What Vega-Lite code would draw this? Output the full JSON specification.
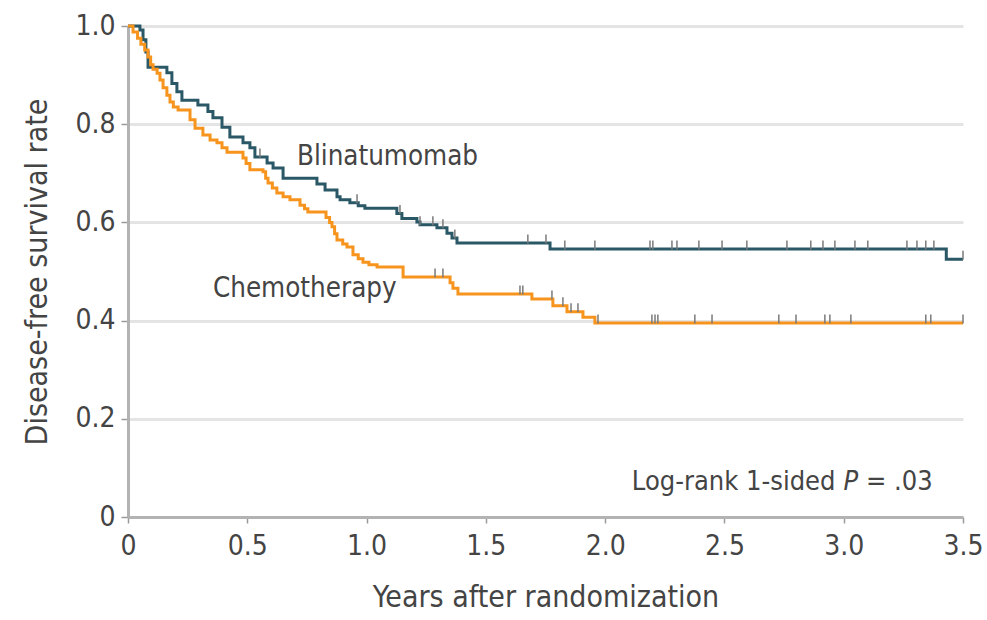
{
  "$schema": "https://vega.github.io/schema/vega-lite/v6.json",
  "autosize": "none",
  "width": 835,
  "height": 491,
  "padding": {"left": 128, "top": 26, "right": 24, "bottom": 103},
  "background": "white",
  "config": {"view": {"stroke": null}},
  "datasets": {
    "curves": [
      {"g": "Blinatumomab", "t": 0, "s": 1.0},
      {"g": "Blinatumomab", "t": 0.05, "s": 0.992},
      {"g": "Blinatumomab", "t": 0.063, "s": 0.972},
      {"g": "Blinatumomab", "t": 0.075, "s": 0.947},
      {"g": "Blinatumomab", "t": 0.084, "s": 0.916},
      {"g": "Blinatumomab", "t": 0.163, "s": 0.905},
      {"g": "Blinatumomab", "t": 0.184, "s": 0.883},
      {"g": "Blinatumomab", "t": 0.205, "s": 0.866},
      {"g": "Blinatumomab", "t": 0.226, "s": 0.849},
      {"g": "Blinatumomab", "t": 0.293, "s": 0.839},
      {"g": "Blinatumomab", "t": 0.335, "s": 0.826},
      {"g": "Blinatumomab", "t": 0.356, "s": 0.813},
      {"g": "Blinatumomab", "t": 0.394, "s": 0.794},
      {"g": "Blinatumomab", "t": 0.427, "s": 0.774},
      {"g": "Blinatumomab", "t": 0.482, "s": 0.762},
      {"g": "Blinatumomab", "t": 0.511, "s": 0.752},
      {"g": "Blinatumomab", "t": 0.532, "s": 0.733},
      {"g": "Blinatumomab", "t": 0.583, "s": 0.721},
      {"g": "Blinatumomab", "t": 0.608, "s": 0.711},
      {"g": "Blinatumomab", "t": 0.65, "s": 0.69},
      {"g": "Blinatumomab", "t": 0.792, "s": 0.678},
      {"g": "Blinatumomab", "t": 0.826, "s": 0.666},
      {"g": "Blinatumomab", "t": 0.876, "s": 0.652},
      {"g": "Blinatumomab", "t": 0.889, "s": 0.646},
      {"g": "Blinatumomab", "t": 0.93, "s": 0.64},
      {"g": "Blinatumomab", "t": 0.965, "s": 0.634},
      {"g": "Blinatumomab", "t": 0.993, "s": 0.629},
      {"g": "Blinatumomab", "t": 1.127, "s": 0.618},
      {"g": "Blinatumomab", "t": 1.148, "s": 0.608},
      {"g": "Blinatumomab", "t": 1.211, "s": 0.601},
      {"g": "Blinatumomab", "t": 1.224, "s": 0.595},
      {"g": "Blinatumomab", "t": 1.295, "s": 0.589},
      {"g": "Blinatumomab", "t": 1.337, "s": 0.578},
      {"g": "Blinatumomab", "t": 1.358, "s": 0.568},
      {"g": "Blinatumomab", "t": 1.379, "s": 0.558},
      {"g": "Blinatumomab", "t": 1.769, "s": 0.546},
      {"g": "Blinatumomab", "t": 3.43, "s": 0.525},
      {"g": "Blinatumomab", "t": 3.5, "s": 0.525},
      {"g": "Chemotherapy", "t": 0, "s": 1.0},
      {"g": "Chemotherapy", "t": 0.021, "s": 0.988},
      {"g": "Chemotherapy", "t": 0.04, "s": 0.975},
      {"g": "Chemotherapy", "t": 0.054, "s": 0.963},
      {"g": "Chemotherapy", "t": 0.07, "s": 0.951},
      {"g": "Chemotherapy", "t": 0.084, "s": 0.937},
      {"g": "Chemotherapy", "t": 0.095, "s": 0.921},
      {"g": "Chemotherapy", "t": 0.105, "s": 0.912},
      {"g": "Chemotherapy", "t": 0.122, "s": 0.904},
      {"g": "Chemotherapy", "t": 0.134, "s": 0.89},
      {"g": "Chemotherapy", "t": 0.147, "s": 0.874},
      {"g": "Chemotherapy", "t": 0.163, "s": 0.859},
      {"g": "Chemotherapy", "t": 0.176, "s": 0.845},
      {"g": "Chemotherapy", "t": 0.19, "s": 0.835},
      {"g": "Chemotherapy", "t": 0.21, "s": 0.829},
      {"g": "Chemotherapy", "t": 0.26, "s": 0.809},
      {"g": "Chemotherapy", "t": 0.281, "s": 0.792},
      {"g": "Chemotherapy", "t": 0.314, "s": 0.778},
      {"g": "Chemotherapy", "t": 0.344, "s": 0.768},
      {"g": "Chemotherapy", "t": 0.373, "s": 0.762},
      {"g": "Chemotherapy", "t": 0.394, "s": 0.752},
      {"g": "Chemotherapy", "t": 0.415, "s": 0.743},
      {"g": "Chemotherapy", "t": 0.482, "s": 0.731},
      {"g": "Chemotherapy", "t": 0.495, "s": 0.72},
      {"g": "Chemotherapy", "t": 0.511, "s": 0.707},
      {"g": "Chemotherapy", "t": 0.566, "s": 0.703},
      {"g": "Chemotherapy", "t": 0.577, "s": 0.69},
      {"g": "Chemotherapy", "t": 0.587, "s": 0.68},
      {"g": "Chemotherapy", "t": 0.605, "s": 0.67},
      {"g": "Chemotherapy", "t": 0.624, "s": 0.66},
      {"g": "Chemotherapy", "t": 0.65, "s": 0.652},
      {"g": "Chemotherapy", "t": 0.679, "s": 0.646},
      {"g": "Chemotherapy", "t": 0.721, "s": 0.635},
      {"g": "Chemotherapy", "t": 0.74, "s": 0.628},
      {"g": "Chemotherapy", "t": 0.754, "s": 0.621},
      {"g": "Chemotherapy", "t": 0.83, "s": 0.61},
      {"g": "Chemotherapy", "t": 0.845, "s": 0.6},
      {"g": "Chemotherapy", "t": 0.855, "s": 0.591},
      {"g": "Chemotherapy", "t": 0.866, "s": 0.577},
      {"g": "Chemotherapy", "t": 0.876, "s": 0.564},
      {"g": "Chemotherapy", "t": 0.9, "s": 0.556},
      {"g": "Chemotherapy", "t": 0.918, "s": 0.55},
      {"g": "Chemotherapy", "t": 0.943, "s": 0.534},
      {"g": "Chemotherapy", "t": 0.965, "s": 0.526},
      {"g": "Chemotherapy", "t": 0.985, "s": 0.519},
      {"g": "Chemotherapy", "t": 1.01, "s": 0.514},
      {"g": "Chemotherapy", "t": 1.044, "s": 0.509},
      {"g": "Chemotherapy", "t": 1.153, "s": 0.489},
      {"g": "Chemotherapy", "t": 1.35, "s": 0.477},
      {"g": "Chemotherapy", "t": 1.362, "s": 0.466},
      {"g": "Chemotherapy", "t": 1.383, "s": 0.454},
      {"g": "Chemotherapy", "t": 1.693, "s": 0.444},
      {"g": "Chemotherapy", "t": 1.781, "s": 0.43},
      {"g": "Chemotherapy", "t": 1.84, "s": 0.418},
      {"g": "Chemotherapy", "t": 1.907, "s": 0.407},
      {"g": "Chemotherapy", "t": 1.957, "s": 0.395},
      {"g": "Chemotherapy", "t": 3.5, "s": 0.395}
    ],
    "censors": [
      {"g": "Blinatumomab", "t": 0.553, "s": 0.733},
      {"g": "Blinatumomab", "t": 0.96, "s": 0.64},
      {"g": "Blinatumomab", "t": 1.14, "s": 0.618},
      {"g": "Blinatumomab", "t": 1.224, "s": 0.595},
      {"g": "Blinatumomab", "t": 1.278, "s": 0.595},
      {"g": "Blinatumomab", "t": 1.32, "s": 0.589},
      {"g": "Blinatumomab", "t": 1.37, "s": 0.568},
      {"g": "Blinatumomab", "t": 1.676, "s": 0.558},
      {"g": "Blinatumomab", "t": 1.752, "s": 0.558},
      {"g": "Blinatumomab", "t": 1.831, "s": 0.546},
      {"g": "Blinatumomab", "t": 1.957, "s": 0.546},
      {"g": "Blinatumomab", "t": 2.188, "s": 0.546},
      {"g": "Blinatumomab", "t": 2.2, "s": 0.546},
      {"g": "Blinatumomab", "t": 2.28, "s": 0.546},
      {"g": "Blinatumomab", "t": 2.301, "s": 0.546},
      {"g": "Blinatumomab", "t": 2.393, "s": 0.546},
      {"g": "Blinatumomab", "t": 2.49, "s": 0.546},
      {"g": "Blinatumomab", "t": 2.594, "s": 0.546},
      {"g": "Blinatumomab", "t": 2.762, "s": 0.546},
      {"g": "Blinatumomab", "t": 2.862, "s": 0.546},
      {"g": "Blinatumomab", "t": 2.913, "s": 0.546},
      {"g": "Blinatumomab", "t": 2.963, "s": 0.546},
      {"g": "Blinatumomab", "t": 3.047, "s": 0.546},
      {"g": "Blinatumomab", "t": 3.101, "s": 0.546},
      {"g": "Blinatumomab", "t": 3.265, "s": 0.546},
      {"g": "Blinatumomab", "t": 3.307, "s": 0.546},
      {"g": "Blinatumomab", "t": 3.344, "s": 0.546},
      {"g": "Blinatumomab", "t": 3.378, "s": 0.546},
      {"g": "Blinatumomab", "t": 3.5, "s": 0.525},
      {"g": "Chemotherapy", "t": 1.287, "s": 0.489},
      {"g": "Chemotherapy", "t": 1.32, "s": 0.489},
      {"g": "Chemotherapy", "t": 1.643, "s": 0.454},
      {"g": "Chemotherapy", "t": 1.655, "s": 0.454},
      {"g": "Chemotherapy", "t": 1.777, "s": 0.444},
      {"g": "Chemotherapy", "t": 1.823, "s": 0.43},
      {"g": "Chemotherapy", "t": 1.857, "s": 0.418},
      {"g": "Chemotherapy", "t": 1.886, "s": 0.418},
      {"g": "Chemotherapy", "t": 1.97, "s": 0.395},
      {"g": "Chemotherapy", "t": 2.196, "s": 0.395},
      {"g": "Chemotherapy", "t": 2.209, "s": 0.395},
      {"g": "Chemotherapy", "t": 2.221, "s": 0.395},
      {"g": "Chemotherapy", "t": 2.376, "s": 0.395},
      {"g": "Chemotherapy", "t": 2.448, "s": 0.395},
      {"g": "Chemotherapy", "t": 2.728, "s": 0.395},
      {"g": "Chemotherapy", "t": 2.8, "s": 0.395},
      {"g": "Chemotherapy", "t": 2.921, "s": 0.395},
      {"g": "Chemotherapy", "t": 2.942, "s": 0.395},
      {"g": "Chemotherapy", "t": 3.03, "s": 0.395},
      {"g": "Chemotherapy", "t": 3.344, "s": 0.395},
      {"g": "Chemotherapy", "t": 3.365, "s": 0.395},
      {"g": "Chemotherapy", "t": 3.5, "s": 0.395}
    ],
    "labels": [
      {"label": "Blinatumomab", "t": 0.708, "s": 0.717, "kind": "big"},
      {"label": "Chemotherapy", "t": 0.356, "s": 0.448, "kind": "big"},
      {"label": "Log-rank 1-sided", "t": 2.112, "s": 0.055, "kind": "note"},
      {"label": "P", "t": 2.999, "s": 0.055, "kind": "italic"},
      {"label": "= .03", "t": 3.093, "s": 0.055, "kind": "note"}
    ]
  },
  "encoding": {
    "x": {
      "field": "t", "type": "quantitative",
      "scale": {"domain": [0, 3.5], "nice": false, "zero": false},
      "axis": {
        "title": "Years after randomization",
        "values": [0, 0.5, 1, 1.5, 2, 2.5, 3, 3.5],
        "labelExpr": "datum.value == 0 ? '0' : format(datum.value, '.1f')",
        "grid": false,
        "domainColor": "#b3b3b3", "domainWidth": 3,
        "tickColor": "#9a9a9a", "tickWidth": 1.5, "tickSize": 6,
        "labelFont": "DejaVu Sans Condensed", "labelFontSize": 28, "labelColor": "#444444",
        "labelPadding": 9, "labelFlush": false,
        "titleFont": "DejaVu Sans Condensed", "titleFontSize": 30, "titleFontWeight": "normal", "titleColor": "#444444",
        "titlePadding": 22
      }
    },
    "y": {
      "field": "s", "type": "quantitative",
      "scale": {"domain": [0, 1], "nice": false},
      "axis": {
        "title": "Disease-free survival rate",
        "values": [0, 0.2, 0.4, 0.6, 0.8, 1],
        "labelExpr": "datum.value == 0 ? '0' : format(datum.value, '.1f')",
        "grid": true, "gridColor": "#e4e4e4", "gridWidth": 3,
        "domainColor": "#b3b3b3", "domainWidth": 3,
        "tickColor": "#9a9a9a", "tickWidth": 1.5, "tickSize": 7,
        "labelFont": "DejaVu Sans Condensed", "labelFontSize": 28, "labelColor": "#444444",
        "labelPadding": 6,
        "titleFont": "DejaVu Sans Condensed", "titleFontSize": 30, "titleFontWeight": "normal", "titleColor": "#444444",
        "titlePadding": 22
      }
    }
  },
  "layer": [
    {
      "data": {"name": "curves"},
      "mark": {"type": "line", "interpolate": "step-after", "strokeWidth": 3},
      "encoding": {
        "color": {
          "field": "g", "type": "nominal",
          "scale": {"domain": ["Blinatumomab", "Chemotherapy"], "range": ["#2b5866", "#f7941d"]},
          "legend": null
        }
      }
    },
    {
      "data": {"name": "censors"},
      "mark": {"type": "tick", "orient": "vertical", "size": 9, "thickness": 1.5, "color": "#7a7a7a", "yOffset": -4, "opacity": 1},
      "encoding": {}
    },
    {
      "data": {"name": "labels"},
      "transform": [{"filter": "datum.kind == 'big'"}],
      "mark": {"type": "text", "align": "left", "baseline": "alphabetic", "font": "DejaVu Sans Condensed", "fontSize": 27.5, "color": "#444444"},
      "encoding": {"text": {"field": "label"}}
    },
    {
      "data": {"name": "labels"},
      "transform": [{"filter": "datum.kind == 'note'"}],
      "mark": {"type": "text", "align": "left", "baseline": "alphabetic", "font": "DejaVu Sans Condensed", "fontSize": 27, "color": "#444444"},
      "encoding": {"text": {"field": "label"}}
    },
    {
      "data": {"name": "labels"},
      "transform": [{"filter": "datum.kind == 'italic'"}],
      "mark": {"type": "text", "align": "left", "baseline": "alphabetic", "font": "DejaVu Sans Condensed", "fontStyle": "italic", "fontSize": 27, "color": "#444444"},
      "encoding": {"text": {"field": "label"}}
    }
  ]
}
